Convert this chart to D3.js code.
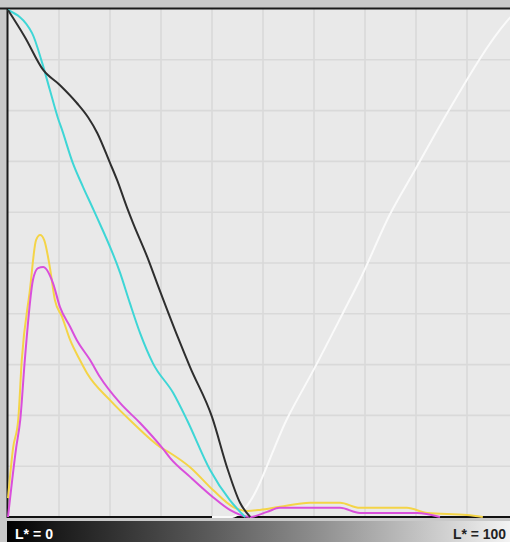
<!DOCTYPE html>
<html><head><meta charset="utf-8">
<script src="https://cdn.jsdelivr.net/npm/d3@7"></script>
<style>html,body{margin:0;padding:0;background:#c9c9c9;overflow:hidden}</style>
</head><body><svg id="c" width="510" height="542"></svg>
<script>
// L* (x) values and curve values (y, percent)
const blackL = [0,3.3,6.9,10.2,13.5,15.7,17.5,20.0,21.4,23.3,24.5,27.3,29.2,33.3,35.7,40.0,43.1,45.5,47.5];
const blackV = [99.8,94.5,88.0,85.0,81.5,78.7,75.6,69.7,66.3,61.0,57.9,51.2,46.1,35.4,29.5,19.7,9.3,2.8,0];
const cyanL = [0,4.7,6.7,8.2,9.8,10.6,12.7,14.7,16.8,22.0,23.9,25.9,28.4,32.4,35.1,39.6,43.5,46.5];
const cyanV = [99.8,95.3,89.4,84.1,78.5,76.2,69.7,65.0,60.4,48.0,42.1,36.2,30.3,24.4,19.1,9.3,3.3,0];
const yellowL = [0,1.0,2.0,2.7,4.3,5.5,6.3,7.1,8.2,9.2,10.6,12.2,14.1,15.5,20.0,24.5,29.8,31.8,35.7,40.2,44.1,46.9,49.4,53.3,59.2,65.1,69.0,78.2,82.2,90.0,93.1];
const yellowV = [3.7,13.6,19.1,30.9,44.7,54.5,55.5,54.5,49.2,42.7,39.4,34.8,30.9,28.3,23.0,18.5,13.8,12.6,9.8,5.3,2.0,1.2,1.4,2.0,2.8,2.8,1.8,1.8,0.8,0.4,0];
const magentaL = [0,1.6,2.4,3.3,4.9,5.9,6.9,8.8,10.2,12.2,13.5,16.1,18.0,22.0,25.9,30.4,31.8,35.7,40.2,43.5,47.5,50.8,53.3,65.1,69.0,80.2,84.7];
const magentaV = [0,13.6,19.1,30.9,46.7,49.0,49.2,46.1,41.3,37.4,34.8,30.9,27.6,22.4,18.5,13.4,11.6,7.9,3.9,1.4,0,1.0,1.8,1.8,0.8,0.8,0];
const whiteL = [40,44,46.5,54.9,60.2,65.7,69.0,74.9,79.8,85.3,98.0,100];
const whiteV = [0,0,1.8,19.7,29.5,40.2,46.7,59.6,68.3,78.1,97.8,100];
const gridTicks = [0,10,20,30,40,50,60,70,80,90,100];
const labels = ["L* = 0","L* = 100"];

const svg = d3.select("#c");
const x = d3.scaleLinear().domain([0,100]).range([8,518]);
const y = d3.scaleLinear().domain([0,100]).range([517,9]);

svg.append("rect").attr("x",8).attr("y",9).attr("width",510).attr("height",508).attr("fill","#e9e9e9");

const g = svg.append("g");
g.selectAll("line.v").data(gridTicks.slice(1,-1)).join("line")
  .attr("x1",d=>x(d)).attr("x2",d=>x(d)).attr("y1",y(100)).attr("y2",y(0))
  .attr("stroke","#d9d9d9").attr("stroke-width",1.6);
g.selectAll("line.h").data(gridTicks.slice(1,-1)).join("line")
  .attr("y1",d=>y(d)).attr("y2",d=>y(d)).attr("x1",x(0)).attr("x2",x(100))
  .attr("stroke","#d9d9d9").attr("stroke-width",1.6);

// frame
svg.append("line").attr("x1",0).attr("x2",510).attr("y1",8.5).attr("y2",8.5).attr("stroke","#1a1a1a").attr("stroke-width",2);
svg.append("line").attr("x1",7.5).attr("x2",7.5).attr("y1",8).attr("y2",518).attr("stroke","#1a1a1a").attr("stroke-width",2);
svg.append("line").attr("x1",7).attr("x2",510).attr("y1",517).attr("y2",517).attr("stroke","#111").attr("stroke-width",2);

const line = d3.line().x(d=>x(d[0])).y(d=>y(d[1])).curve(d3.curveMonotoneX);
function draw(L,V,color,w){
  svg.append("path").datum(L.map((l,i)=>[l,V[i]])).attr("d",line)
    .attr("fill","none").attr("stroke",color).attr("stroke-width",w).attr("stroke-linejoin","round");
}
draw(whiteL,whiteV,"#fafafa",2);
draw(yellowL,yellowV,"#f4d447",2);
draw(magentaL,magentaV,"#d94fdc",2);
draw(cyanL,cyanV,"#3ed6d6",2);
draw(blackL,blackV,"#2e2e2e",2);

// gradient bar
const defs = svg.append("defs");
const gr = defs.append("linearGradient").attr("id","lg").attr("x1","0").attr("x2","1").attr("y1","0").attr("y2","0");
d3.range(0,11).forEach(i=>{
  const t=i/10;
  gr.append("stop").attr("offset",t).attr("stop-color",d3.lab(t*96,0,0).formatHex());
});
svg.append("rect").attr("x",7).attr("y",521).attr("width",503).attr("height",21).attr("fill","url(#lg)");

svg.append("text").attr("x",15).attr("y",539).text(labels[0])
  .attr("font-family","Liberation Sans, Arial, sans-serif").attr("font-weight","bold").attr("font-size",15)
  .attr("fill","#fff").attr("textLength",38).attr("lengthAdjust","spacingAndGlyphs");
svg.append("text").attr("x",453).attr("y",539).text(labels[1])
  .attr("font-family","Liberation Sans, Arial, sans-serif").attr("font-weight","bold").attr("font-size",15)
  .attr("fill","#222").attr("textLength",53).attr("lengthAdjust","spacingAndGlyphs");
</script></body></html>
